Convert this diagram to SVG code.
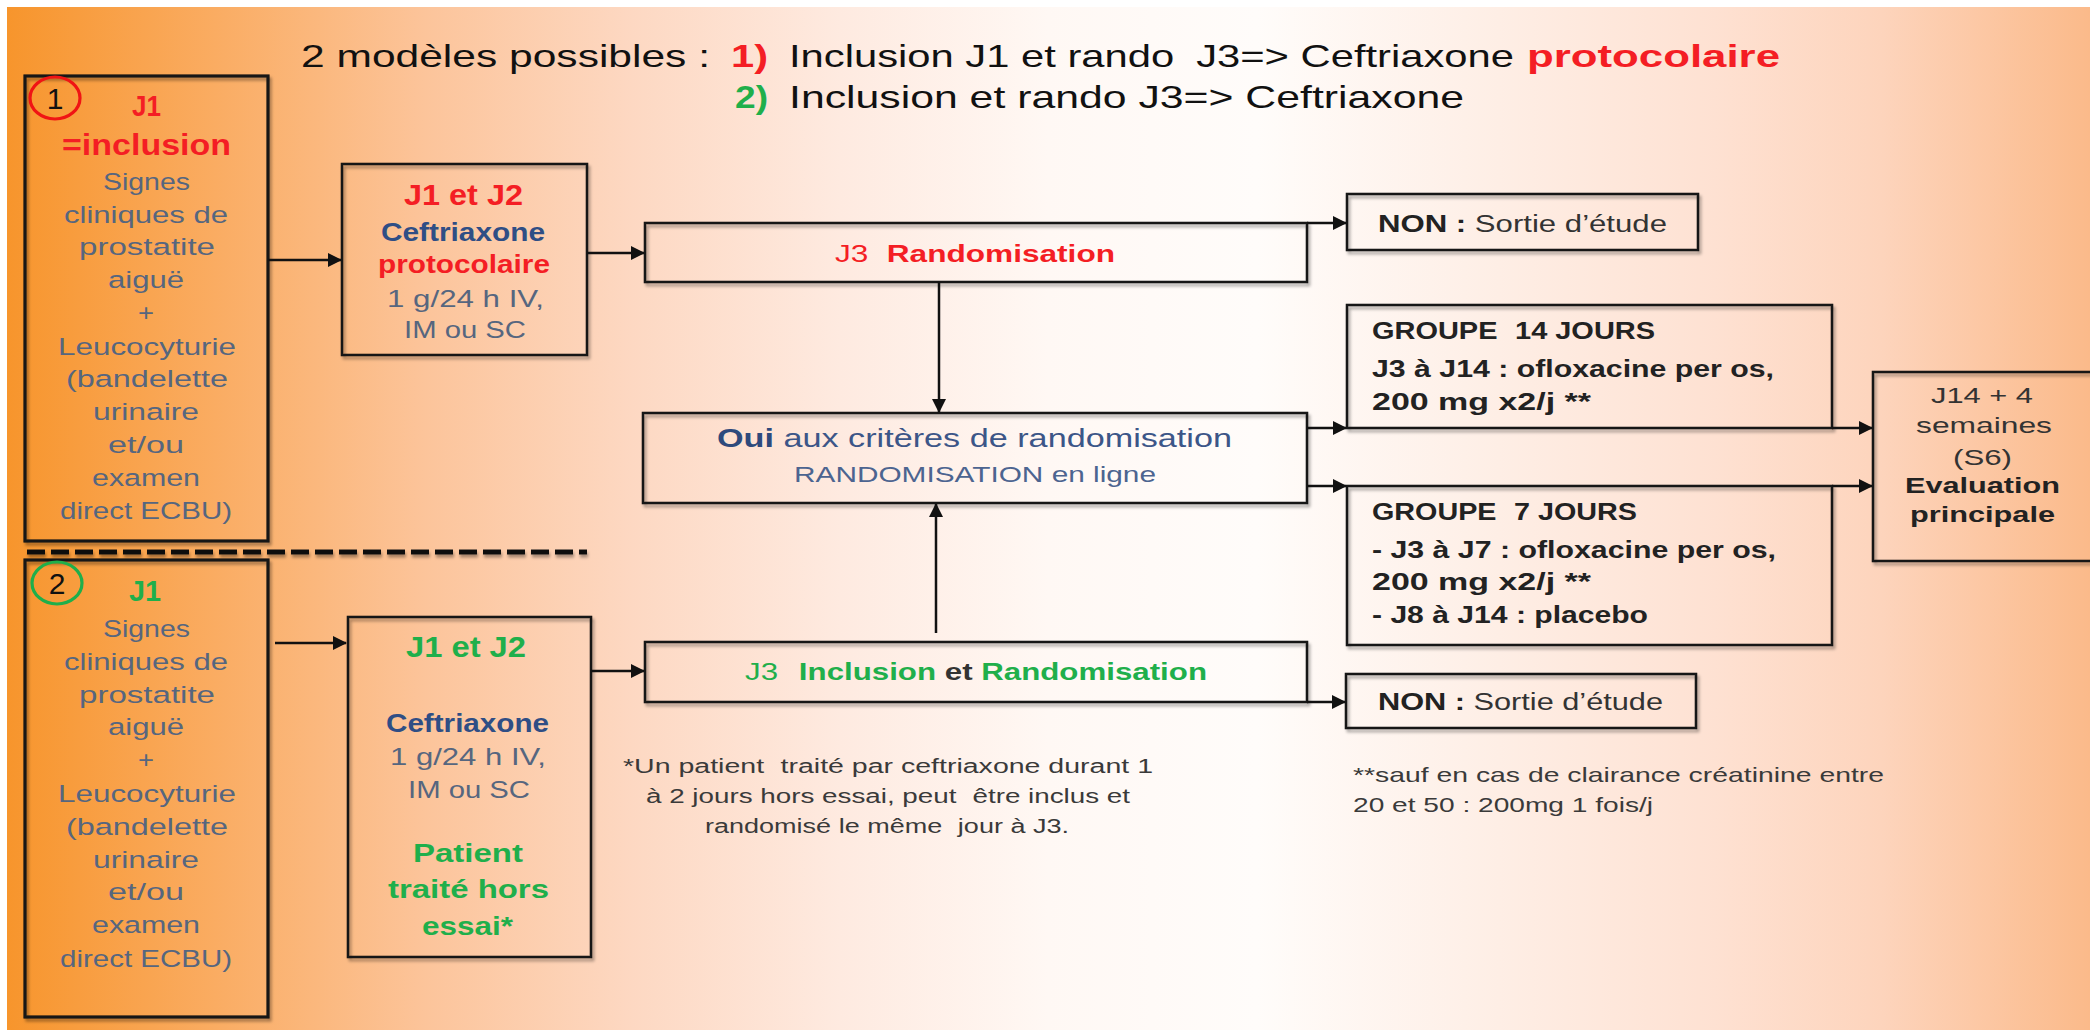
<svg xmlns="http://www.w3.org/2000/svg" width="2090" height="1030" viewBox="0 0 2090 1030">
<defs>
<linearGradient id="bg" x1="0" y1="0" x2="1" y2="0">
<stop offset="0" stop-color="#F7952C"/>
<stop offset="0.1" stop-color="#FAAC62"/>
<stop offset="0.2" stop-color="#FCC49A"/>
<stop offset="0.3" stop-color="#FDD8C2"/>
<stop offset="0.4" stop-color="#FEEAE0"/>
<stop offset="0.5" stop-color="#FFF8F4"/>
<stop offset="0.6" stop-color="#FFFCFA"/>
<stop offset="0.7" stop-color="#FEF0E8"/>
<stop offset="0.82" stop-color="#FEE1D2"/>
<stop offset="0.9" stop-color="#FDD4BC"/>
<stop offset="1" stop-color="#FBBA8A"/>
</linearGradient>
<filter id="sh" x="-5%" y="-10%" width="115%" height="130%">
<feDropShadow dx="2" dy="3" stdDeviation="1.5" flood-color="#000" flood-opacity="0.35"/>
</filter>
<filter id="shl" filterUnits="userSpaceOnUse" x="0" y="540" width="620" height="30">
<feDropShadow dx="1" dy="3" stdDeviation="1.5" flood-color="#000" flood-opacity="0.35"/>
</filter>
<marker id="ah" viewBox="0 0 14 14" refX="13" refY="7" markerWidth="14" markerHeight="14" markerUnits="userSpaceOnUse" orient="auto">
<path d="M0,0 L14,7 L0,14 z" fill="#111"/>
</marker>
<style>
.box{fill:none;stroke:#161616;stroke-width:2.5;filter:url(#sh)}
.thick{stroke-width:3.2}
.t{font-family:"Liberation Sans",Arial,sans-serif}
.b{font-weight:bold}
.body{font-size:24.5px;fill:#56667F}
.red{fill:#F41E24}
.green{fill:#1FAF4B}
.blue{fill:#2F4E85}
.dark{fill:#222}
.conn{stroke:#111;stroke-width:2.5;fill:none;marker-end:url(#ah)}
</style>
</defs>
<rect x="0" y="0" width="2090" height="1030" fill="#FFFFFF"/>
<rect x="7" y="7" width="2083" height="1023" fill="url(#bg)"/>

<g id="title" class="t" font-size="32">
<text x="301" y="67" textLength="409" lengthAdjust="spacingAndGlyphs" fill="#111">2 modèles possibles :</text>
<text x="731" y="67" textLength="37" lengthAdjust="spacingAndGlyphs" class="b red">1)</text>
<text x="789" y="67" textLength="725" lengthAdjust="spacingAndGlyphs" fill="#111">Inclusion J1 et rando <tspan dx="8">J3=&gt; Ceftriaxone</tspan></text>
<text x="1527" y="67" textLength="253" lengthAdjust="spacingAndGlyphs" class="b red">protocolaire</text>
<text x="735" y="108" textLength="33" lengthAdjust="spacingAndGlyphs" class="b green">2)</text>
<text x="789" y="108" textLength="675" lengthAdjust="spacingAndGlyphs" fill="#111">Inclusion et rando J3=&gt; Ceftriaxone</text>
</g>

<g id="separator">
<line x1="27" y1="552" x2="587" y2="552" stroke="#111" stroke-width="5" stroke-dasharray="18 6" filter="url(#shl)"/>
</g>

<g id="model1-J1">
<rect class="box thick" x="25" y="76" width="243" height="465"/>
<ellipse cx="55" cy="98" rx="25" ry="21" fill="none" stroke="#F01414" stroke-width="3.2"/>
<text class="t" x="55" y="109" font-size="30" text-anchor="middle" fill="#111">1</text>
<g class="t">
<text x="132" y="116" font-size="29" textLength="29" lengthAdjust="spacingAndGlyphs" class="b red">J1</text>
<text x="62" y="155" font-size="29" textLength="169" lengthAdjust="spacingAndGlyphs" class="b red">=inclusion</text>
<text x="103" y="190" class="body" textLength="87" lengthAdjust="spacingAndGlyphs">Signes</text>
<text x="64" y="223" class="body" textLength="164" lengthAdjust="spacingAndGlyphs">cliniques de</text>
<text x="79" y="255" class="body" textLength="136" lengthAdjust="spacingAndGlyphs">prostatite</text>
<text x="108" y="288" class="body" textLength="76" lengthAdjust="spacingAndGlyphs">aiguë</text>
<text x="138" y="321" class="body" textLength="16" lengthAdjust="spacingAndGlyphs">+</text>
<text x="58" y="355" class="body" textLength="178" lengthAdjust="spacingAndGlyphs">Leucocyturie</text>
<text x="66" y="387" class="body" textLength="162" lengthAdjust="spacingAndGlyphs">(bandelette</text>
<text x="93" y="420" class="body" textLength="106" lengthAdjust="spacingAndGlyphs">urinaire</text>
<text x="108" y="453" class="body" textLength="76" lengthAdjust="spacingAndGlyphs">et/ou</text>
<text x="92" y="486" class="body" textLength="108" lengthAdjust="spacingAndGlyphs">examen</text>
<text x="60" y="519" class="body" textLength="172" lengthAdjust="spacingAndGlyphs">direct ECBU)</text>
</g>
</g>

<g id="model2-J1">
<rect class="box thick" x="25" y="560" width="243" height="457"/>
<ellipse cx="57" cy="583" rx="25" ry="21" fill="none" stroke="#1FAF4B" stroke-width="3.2"/>
<text class="t" x="57" y="594" font-size="30" text-anchor="middle" fill="#111">2</text>
<g class="t">
<text x="129" y="601" font-size="29" textLength="32" lengthAdjust="spacingAndGlyphs" class="b green">J1</text>
<text x="103" y="637" class="body" textLength="87" lengthAdjust="spacingAndGlyphs">Signes</text>
<text x="64" y="670" class="body" textLength="164" lengthAdjust="spacingAndGlyphs">cliniques de</text>
<text x="79" y="703" class="body" textLength="136" lengthAdjust="spacingAndGlyphs">prostatite</text>
<text x="108" y="735" class="body" textLength="76" lengthAdjust="spacingAndGlyphs">aiguë</text>
<text x="138" y="768" class="body" textLength="16" lengthAdjust="spacingAndGlyphs">+</text>
<text x="58" y="802" class="body" textLength="178" lengthAdjust="spacingAndGlyphs">Leucocyturie</text>
<text x="66" y="835" class="body" textLength="162" lengthAdjust="spacingAndGlyphs">(bandelette</text>
<text x="93" y="868" class="body" textLength="106" lengthAdjust="spacingAndGlyphs">urinaire</text>
<text x="108" y="900" class="body" textLength="76" lengthAdjust="spacingAndGlyphs">et/ou</text>
<text x="92" y="933" class="body" textLength="108" lengthAdjust="spacingAndGlyphs">examen</text>
<text x="60" y="967" class="body" textLength="172" lengthAdjust="spacingAndGlyphs">direct ECBU)</text>
</g>
</g>

<g id="model1-J1J2">
<rect class="box" x="342" y="164" width="245" height="191"/>
<g class="t">
<text x="404" y="205" font-size="29" textLength="119" lengthAdjust="spacingAndGlyphs" class="b red">J1 et J2</text>
<text x="381" y="241" font-size="25" textLength="164" lengthAdjust="spacingAndGlyphs" class="b blue">Ceftriaxone</text>
<text x="378" y="273" font-size="25" textLength="172" lengthAdjust="spacingAndGlyphs" class="b red">protocolaire</text>
<text x="387" y="307" class="body" textLength="157" lengthAdjust="spacingAndGlyphs">1 g/24 h IV,</text>
<text x="404" y="338" class="body" textLength="122" lengthAdjust="spacingAndGlyphs">IM ou SC</text>
</g>
</g>

<g id="model2-J1J2">
<rect class="box" x="348" y="617" width="243" height="340"/>
<g class="t">
<text x="406" y="657" font-size="29" textLength="120" lengthAdjust="spacingAndGlyphs" class="b green">J1 et J2</text>
<text x="386" y="732" font-size="25" textLength="163" lengthAdjust="spacingAndGlyphs" class="b blue">Ceftriaxone</text>
<text x="390" y="765" class="body" textLength="156" lengthAdjust="spacingAndGlyphs">1 g/24 h IV,</text>
<text x="408" y="798" class="body" textLength="122" lengthAdjust="spacingAndGlyphs">IM ou SC</text>
<text x="413" y="862" font-size="26" textLength="110" lengthAdjust="spacingAndGlyphs" class="b green">Patient</text>
<text x="388" y="898" font-size="26" textLength="161" lengthAdjust="spacingAndGlyphs" class="b green">traité hors</text>
<text x="422" y="935" font-size="26" textLength="91" lengthAdjust="spacingAndGlyphs" class="b green">essai*</text>
</g>
</g>

<g id="J3-randomisation">
<rect class="box" x="645" y="223" width="662" height="59"/>
<text class="t red" x="835" y="262" font-size="24" textLength="280" lengthAdjust="spacingAndGlyphs">J3<tspan class="b" dx="14">Randomisation</tspan></text>
</g>

<g id="oui-criteres">
<rect class="box" x="643" y="413" width="664" height="90"/>
<text class="t" x="717" y="447" font-size="25" textLength="515" lengthAdjust="spacingAndGlyphs" fill="#3C5688"><tspan class="b" fill="#2E4A7C">Oui</tspan> aux critères de randomisation</text>
<text class="t" x="794" y="482" font-size="22" textLength="362" lengthAdjust="spacingAndGlyphs" fill="#4C6490">RANDOMISATION en ligne</text>
</g>

<g id="J3-inclusion">
<rect class="box" x="645" y="642" width="662" height="60"/>
<text class="t green" x="745" y="680" font-size="24" textLength="462" lengthAdjust="spacingAndGlyphs">J3<tspan class="b" dx="16">Inclusion </tspan><tspan class="b" fill="#333">et</tspan><tspan class="b"> Randomisation</tspan></text>
</g>

<g id="non-top">
<rect class="box" x="1347" y="194" width="351" height="56"/>
<text class="t" x="1378" y="232" font-size="23" textLength="289" lengthAdjust="spacingAndGlyphs" fill="#333"><tspan class="b" fill="#222">NON :</tspan> Sortie d’étude</text>
</g>

<g id="non-bottom">
<rect class="box" x="1346" y="674" width="350" height="54"/>
<text class="t" x="1378" y="710" font-size="23" textLength="285" lengthAdjust="spacingAndGlyphs" fill="#333"><tspan class="b" fill="#222">NON :</tspan> Sortie d’étude</text>
</g>

<g id="groupe-14">
<rect class="box" x="1347" y="305" width="485" height="123"/>
<g class="t b dark" font-size="23">
<text x="1372" y="339" textLength="283" lengthAdjust="spacingAndGlyphs">GROUPE<tspan dx="14">14 JOURS</tspan></text>
<text x="1372" y="377" textLength="402" lengthAdjust="spacingAndGlyphs">J3 à J14 : ofloxacine per os,</text>
<text x="1372" y="410" textLength="219" lengthAdjust="spacingAndGlyphs">200 mg x2/j **</text>
</g>
</g>

<g id="groupe-7">
<rect class="box" x="1347" y="486" width="485" height="159"/>
<g class="t b dark" font-size="23">
<text x="1372" y="520" textLength="265" lengthAdjust="spacingAndGlyphs">GROUPE<tspan dx="14">7 JOURS</tspan></text>
<text x="1372" y="558" textLength="404" lengthAdjust="spacingAndGlyphs">- J3 à J7 : ofloxacine per os,</text>
<text x="1372" y="590" textLength="219" lengthAdjust="spacingAndGlyphs">200 mg x2/j **</text>
<text x="1372" y="623" textLength="276" lengthAdjust="spacingAndGlyphs">- J8 à J14 : placebo</text>
</g>
</g>

<g id="evaluation">
<rect class="box" x="1873" y="372" width="230" height="189"/>
<g class="t" font-size="22">
<text x="1931" y="403" textLength="102" lengthAdjust="spacingAndGlyphs" fill="#333">J14 + 4</text>
<text x="1916" y="433" textLength="136" lengthAdjust="spacingAndGlyphs" fill="#333">semaines</text>
<text x="1953" y="465" textLength="59" lengthAdjust="spacingAndGlyphs" fill="#333">(S6)</text>
<text x="1905" y="493" textLength="155" lengthAdjust="spacingAndGlyphs" class="b dark">Evaluation</text>
<text x="1910" y="522" textLength="145" lengthAdjust="spacingAndGlyphs" class="b dark">principale</text>
</g>
</g>

<g id="footnotes" class="t" fill="#3A3A3A">
<text x="623" y="773" font-size="20" textLength="530" lengthAdjust="spacingAndGlyphs">*Un patient <tspan dx="6">traité par ceftriaxone durant 1</tspan></text>
<text x="646" y="803" font-size="20" textLength="484" lengthAdjust="spacingAndGlyphs">à 2 jours hors essai, peut <tspan dx="6">être inclus et</tspan></text>
<text x="705" y="833" font-size="20" textLength="364" lengthAdjust="spacingAndGlyphs">randomisé le même <tspan dx="6">jour à J3.</tspan></text>
<text x="1353" y="782" font-size="21" textLength="531" lengthAdjust="spacingAndGlyphs">**sauf en cas de clairance créatinine entre</text>
<text x="1353" y="812" font-size="21" textLength="300" lengthAdjust="spacingAndGlyphs">20 et 50 : 200mg 1 fois/j</text>
</g>

<g id="connectors">
<line class="conn" x1="268" y1="260" x2="341" y2="260"/>
<line class="conn" x1="275" y1="643" x2="346" y2="643"/>
<line class="conn" x1="587" y1="253" x2="644" y2="253"/>
<line class="conn" x1="591" y1="671" x2="644" y2="671"/>
<line class="conn" x1="1307" y1="223" x2="1346" y2="223"/>
<line class="conn" x1="939" y1="282" x2="939" y2="412"/>
<line class="conn" x1="936" y1="633" x2="936" y2="504"/>
<line class="conn" x1="1307" y1="428" x2="1346" y2="428"/>
<line class="conn" x1="1307" y1="486" x2="1346" y2="486"/>
<line class="conn" x1="1832" y1="428" x2="1872" y2="428"/>
<line class="conn" x1="1832" y1="486" x2="1872" y2="486"/>
<line class="conn" x1="1307" y1="702" x2="1345" y2="702"/>
</g>
</svg>
